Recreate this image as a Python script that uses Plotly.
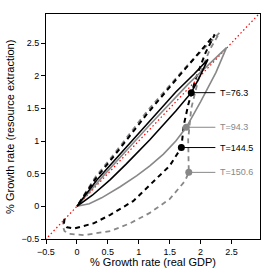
import plotly.graph_objects as go

# ---- data ----
# black solid loop (T=76.3)
bs_x = [0, 0.15, 0.32, 0.7, 1.16, 1.6, 1.9, 2.12, 1.97, 1.85, 1.6, 1.18, 0.8, 0.54, 0.25, 0]
bs_y = [0, 0.19, 0.40, 0.80, 1.29, 1.75, 2.03, 2.25, 1.95, 1.74, 1.46, 1.02, 0.65, 0.41, 0.17, 0]
# grey solid loop (T=94.3)
gs_x = [0, 0.43, 1.18, 1.8, 2.42, 2.25, 2.0, 1.77, 1.6, 1.4, 1.18, 0.97, 0.7, 0.4, 0.2, 0]
gs_y = [0, 0.47, 1.25, 1.87, 2.43, 2.05, 1.6, 1.21, 1.0, 0.8, 0.62, 0.47, 0.30, 0.13, 0.04, 0]
# black dashed loop (T=144.5)
bd_x = [-0.2, -0.21, -0.16, -0.05, 0.27, 0.54, 0.91, 1.10, 1.37, 1.50, 1.69, 1.73, 1.80, 1.92, 2.08, 2.23,
        1.72, 1.13, 0.6, 0.3, 0]
bd_y = [-0.19, -0.27, -0.32, -0.34, -0.26, -0.13, 0.08, 0.25, 0.49, 0.62, 0.90, 1.25, 1.55, 1.95, 2.35, 2.63,
        2.07, 1.41, 0.77, 0.42, 0]
# grey dashed loop (T=150.6)
gd_x = [-0.21, -0.23, -0.2, -0.13, 0.11, 0.54, 0.86, 1.18, 1.50, 1.75, 1.81, 1.80, 1.85, 1.98, 2.15, 2.31,
        1.75, 1.13, 0.6, 0.3, 0]
gd_y = [-0.2, -0.3, -0.38, -0.42, -0.44, -0.38, -0.26, -0.10, 0.11, 0.39, 0.52, 1.02, 1.5, 2.0, 2.4, 2.66,
        2.12, 1.45, 0.8, 0.45, 0]

pt_x = [1.85, 1.77, 1.69, 1.81]
pt_y = [1.74, 1.21, 0.90, 0.52]
pt_labels = ["T=76.3", "T=94.3", "T=144.5", "T=150.6"]
label_line_end = 2.24
label_x = 2.28

x_ticks = [-0.5, 0, 0.5, 1, 1.5, 2, 2.5]
y_ticks = [-0.5, 0, 0.5, 1, 1.5, 2, 2.5]
tick_text = ["\u22120.5", "0", "0.5", "1", "1.5", "2", "2.5"]
x_range = [-0.5, 2.962]
y_range = [-0.5, 2.944]

BLACK = "#000000"
GREY = "#888888"
colors = [BLACK, GREY, BLACK, GREY]
FONT = "Liberation Sans, Arial"

fig = go.Figure()

# y = x reference line
fig.add_trace(go.Scatter(x=[-0.6, 3.1], y=[-0.6, 3.1], mode="lines",
                         line=dict(color="red", width=1.2, dash="1.5px,2.5px"), hoverinfo="skip"))

fig.add_trace(go.Scatter(x=gd_x, y=gd_y, mode="lines", line=dict(color=GREY, width=1.8, dash="5px,4px")))
fig.add_trace(go.Scatter(x=bd_x, y=bd_y, mode="lines", line=dict(color=BLACK, width=2, dash="5px,4px")))
fig.add_trace(go.Scatter(x=gs_x, y=gs_y, mode="lines", line=dict(color=GREY, width=1.6)))
fig.add_trace(go.Scatter(x=bs_x, y=bs_y, mode="lines", line=dict(color=BLACK, width=1.6)))

for px, py, lab, c in zip(pt_x, pt_y, pt_labels, colors):
    fig.add_trace(go.Scatter(x=[px, label_line_end], y=[py, py], mode="lines",
                             line=dict(color=c, width=1)))
    fig.add_trace(go.Scatter(x=[px], y=[py], mode="markers",
                             marker=dict(color=c, size=7)))
    fig.add_annotation(x=label_x, y=py, text=lab, showarrow=False, xanchor="left", yanchor="middle",
                       font=dict(size=9, color=c, family=FONT))

axis_common = dict(showgrid=False, zeroline=False, showline=True, mirror=True, linecolor="black",
                   linewidth=1, ticks="outside", ticklen=4, tickcolor="black", tickwidth=1,
                   automargin=False,
                   tickfont=dict(size=9, color="black", family=FONT))

fig.update_layout(
    width=274, height=274, showlegend=False, autosize=False,
    margin=dict(l=46, r=14, t=14, b=35, pad=0),
    plot_bgcolor="white", paper_bgcolor="white",
    xaxis=dict(range=x_range, tickvals=x_ticks, ticktext=tick_text, **axis_common),
    yaxis=dict(range=y_range, tickvals=y_ticks, ticktext=tick_text, **axis_common),
)
fig.add_annotation(x=0.5, y=-0.104, xref="paper", yref="paper", text="% Growth rate (real GDP)",
                   showarrow=False, xanchor="center", yanchor="middle",
                   font=dict(size=11, color="black", family=FONT))
fig.add_annotation(x=-0.171, y=0.5, xref="paper", yref="paper", text="% Growth rate (resource extraction)",
                   showarrow=False, xanchor="center", yanchor="middle", textangle=-90,
                   font=dict(size=11, color="black", family=FONT))

fig.write_html("out.html", config={"displayModeBar": False},
               post_script="document.body.style.margin='0px';document.body.style.overflow='hidden';")
